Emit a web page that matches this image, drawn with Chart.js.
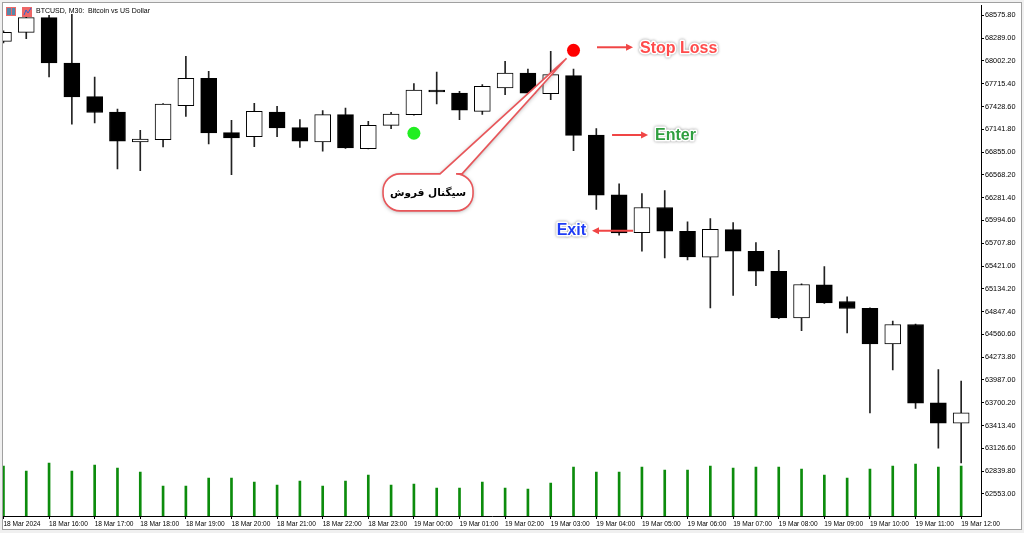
<!DOCTYPE html>
<html>
<head>
<meta charset="utf-8">
<script src="https://cdn.jsdelivr.net/npm/chart.js@4.4.1/dist/chart.umd.min.js"></script>
<style>
  html, body { margin: 0; padding: 0; background: #fff; }
</style>
</head>
<body>
<canvas id="chart" width="1024" height="533"></canvas>
<script>
// BTCUSD M30 candles, 18 Mar 15:00 -> 19 Mar 12:00
const opens  = [68249, 68362, 68547, 67976, 67553, 67359, 66982, 67012, 67440, 67783,
                67100, 67050, 67359, 67163, 66982, 67327, 66899, 67192, 67327, 67636,
                67598, 67368, 67661, 67850, 67591, 67817, 67070, 66316, 65842, 66157,
                65859, 65532, 65880, 65607, 65355, 64768, 65183, 64974, 64890, 64441,
                64685, 63699, 63443];
const highs  = [68380, 68563, 68575, 68590, 67800, 67397, 67129, 67465, 68060, 67871,
                67255, 67469, 67431, 67264, 67377, 67410, 67242, 67356, 67717, 67862,
                67620, 67704, 67997, 67900, 68123, 67900, 67150, 66454, 66333, 66370,
                65976, 66018, 65968, 65716, 65620, 65196, 65414, 65032, 64895, 64727,
                64690, 64118, 63972];
const lows   = [68230, 68283, 67800, 67205, 67221, 66642, 66622, 66919, 67305, 66957,
                66572, 66924, 67050, 66915, 66865, 66900, 66895, 67150, 67318, 67460,
                67264, 67330, 67578, 67595, 67515, 66874, 66132, 65808, 65607, 65523,
                65498, 64894, 65050, 65175, 64760, 64609, 64950, 64579, 63573, 64114,
                63628, 63129, 62944];
const closes = [68362, 68547, 67976, 67548, 67353, 66991, 67020, 67460, 67783, 67095,
                67032, 67368, 67158, 66991, 67327, 66906, 67192, 67334, 67636, 67611,
                67381, 67682, 67850, 67598, 67830, 67066, 66312, 65837, 66157, 65859,
                65535, 65884, 65607, 65355, 64768, 65188, 64957, 64886, 64441, 64685,
                63695, 63443, 63573];
const volumes = [5000, 4500, 5300, 4500, 5100, 4800, 4400, 3000, 3000, 3800,
                 3800, 3400, 3100, 3500, 3000, 3500, 4100, 3100, 3200, 2800,
                 2800, 3400, 2800, 2700, 3300, 4900, 4400, 4400, 4900, 4600,
                 4600, 5000, 4800, 4900, 4900, 4700, 4100, 3800, 4700, 5000,
                 5200, 4900, 5000];

// one label per hour = every second candle
const timeLabels = ['18 Mar 2024', '18 Mar 16:00', '18 Mar 17:00', '18 Mar 18:00', '18 Mar 19:00',
                    '18 Mar 20:00', '18 Mar 21:00', '18 Mar 22:00', '18 Mar 23:00', '19 Mar 00:00',
                    '19 Mar 01:00', '19 Mar 02:00', '19 Mar 03:00', '19 Mar 04:00', '19 Mar 05:00',
                    '19 Mar 06:00', '19 Mar 07:00', '19 Mar 08:00', '19 Mar 09:00', '19 Mar 10:00',
                    '19 Mar 11:00', '19 Mar 12:00'];
const priceTicks = [62553.00, 62839.80, 63126.60, 63413.40, 63700.20, 63987.00, 64273.80,
                    64560.60, 64847.40, 65134.20, 65421.00, 65707.80, 65994.60, 66281.40,
                    66568.20, 66855.00, 67141.80, 67428.60, 67715.40, 68002.20, 68289.00,
                    68575.80];

// annotations: [candle index, price]
const sellSignal = [25, 68136];
const buyDot     = [18, 67092];
const stopLoss   = { from: [26.03, 68174], to: [27.61, 68174], text: 'Stop Loss', color: '#ff4b4b' };
const enter      = { from: [26.69, 67070], to: [28.27, 67070], text: 'Enter', color: '#2f9e3f' };
const exit       = { from: [27.61, 65865], to: [25.81, 65865], text: 'Exit', color: '#1f3cf5' };
const bubble     = { at: [18.62, 66348], text: 'سیگنال فروش' };

function drawArrow(ctx, x1, x2, y, color) {
    const dir = Math.sign(x2 - x1);
    ctx.strokeStyle = color;
    ctx.fillStyle = color;
    ctx.lineWidth = 2;
    ctx.beginPath();
    ctx.moveTo(x1, y);
    ctx.lineTo(x2 - dir * 6, y);
    ctx.stroke();
    ctx.beginPath();
    ctx.moveTo(x2, y);
    ctx.lineTo(x2 - dir * 7, y - 3.5);
    ctx.lineTo(x2 - dir * 7, y + 3.5);
    ctx.closePath();
    ctx.fill();
}

function glowText(ctx, text, x, y, color, align) {
    ctx.save();
    ctx.font = 'bold 16px "Liberation Sans", Arial, sans-serif';
    ctx.textAlign = align;
    ctx.textBaseline = 'middle';
    ctx.lineJoin = 'round';
    ctx.shadowColor = 'rgba(0,0,0,0.45)';
    ctx.shadowBlur = 3;
    ctx.strokeStyle = '#fff';
    ctx.lineWidth = 3;
    ctx.strokeText(text, x, y);
    ctx.shadowColor = 'transparent';
    ctx.fillStyle = color;
    ctx.fillText(text, x, y);
    ctx.restore();
}

const overlay = {
    id: 'overlay',
    beforeDraw(chart) {
        const ctx = chart.ctx;
        ctx.save();
        ctx.fillStyle = '#f0f0f0';
        ctx.fillRect(0, 0, chart.width, chart.height);
        ctx.fillStyle = '#fff';
        ctx.fillRect(2, 2, chart.width - 4, chart.height - 5);
        ctx.strokeStyle = '#a0a0a0';
        ctx.lineWidth = 1;
        ctx.strokeRect(2.5, 2.5, chart.width - 5, chart.height - 6);
        ctx.restore();
    },
    beforeDatasetDraw(chart, args) {
        // callout bubble + tail sits under the signal dots
        if (args.index !== 3) return;
        const ctx = chart.ctx;
        const x = chart.scales.x, y = chart.scales.y;
        const cx = x.getPixelForValue(bubble.at[0]);
        const cy = y.getPixelForValue(bubble.at[1]);
        const ax = x.getPixelForValue(sellSignal[0]) - 7;
        const ay = y.getPixelForValue(sellSignal[1]) + 8;
        const w = 90, h = 37, r = 17;
        const x0 = cx - w / 2, x1 = cx + w / 2, y0 = cy - h / 2, y1 = cy + h / 2;
        ctx.save();
        ctx.beginPath();
        ctx.moveTo(x0 + r, y0);
        ctx.lineTo(cx + 12, y0);
        ctx.lineTo(ax, ay);
        ctx.lineTo(cx + 34, y0);
        ctx.arcTo(x1, y0, x1, y1, r);
        ctx.arcTo(x1, y1, x0, y1, r);
        ctx.arcTo(x0, y1, x0, y0, r);
        ctx.arcTo(x0, y0, x1, y0, r);
        ctx.closePath();
        ctx.shadowColor = 'rgba(0,0,0,0.35)';
        ctx.shadowBlur = 4;
        ctx.shadowOffsetY = 1;
        ctx.fillStyle = '#fff';
        ctx.fill();
        ctx.shadowColor = 'transparent';
        ctx.strokeStyle = '#e8565a';
        ctx.lineWidth = 1.6;
        ctx.stroke();
        ctx.fillStyle = '#000';
        ctx.font = 'bold 10.5px "DejaVu Sans", sans-serif';
        ctx.textAlign = 'center';
        ctx.textBaseline = 'middle';
        ctx.fillText(bubble.text, cx, cy + 1);
        ctx.restore();
    },
    afterDraw(chart) {
        const ctx = chart.ctx;
        const x = chart.scales.x, y = chart.scales.y;
        ctx.save();
        [stopLoss, enter, exit].forEach(a => {
            const x1 = x.getPixelForValue(a.from[0]);
            const x2 = x.getPixelForValue(a.to[0]);
            const py = y.getPixelForValue(a.from[1]);
            drawArrow(ctx, x1, x2, py, '#f04545');
            if (x2 > x1) glowText(ctx, a.text, x2 + 7, py + 1, a.color, 'left');
            else glowText(ctx, a.text, x2 - 6, py, a.color, 'right');
        });

        // MT5 window header: two small icons + symbol title
        ctx.fillStyle = '#e66';
        ctx.fillRect(6, 7, 10, 9);
        ctx.fillStyle = '#58a';
        ctx.fillRect(7, 8, 4, 7);
        ctx.fillRect(12, 8, 3, 7);
        ctx.fillStyle = '#e66';
        ctx.fillRect(22, 7, 10, 10);
        ctx.strokeStyle = '#36c';
        ctx.lineWidth = 1;
        ctx.beginPath();
        ctx.moveTo(24, 15); ctx.lineTo(26, 10); ctx.lineTo(28, 13); ctx.lineTo(31, 8);
        ctx.stroke();
        ctx.fillStyle = '#000';
        ctx.font = '7px "Liberation Sans", Arial, sans-serif';
        ctx.textBaseline = 'middle';
        ctx.textAlign = 'left';
        ctx.fillText('BTCUSD, M30:  Bitcoin vs US Dollar', 36, 11.5);
        ctx.restore();
    }
};

new Chart(document.getElementById('chart'), {
    type: 'bar',
    data: {
        datasets: [
            {
                label: 'Volume',
                data: volumes.map((v, i) => ({ x: i, y: v })),
                yAxisID: 'vol',
                backgroundColor: '#0c8c0c',
                barThickness: 2,
                grouped: false,
                order: 4
            },
            {
                label: 'Wicks',
                data: highs.map((h, i) => ({ x: i, y: [lows[i], h] })),
                backgroundColor: '#222',
                barThickness: 1,
                grouped: false,
                order: 3
            },
            {
                label: 'Bodies',
                data: opens.map((o, i) => ({ x: i, y: [o, closes[i]] })),
                backgroundColor: opens.map((o, i) => closes[i] < o ? '#000' : '#fff'),
                borderColor: '#000',
                borderWidth: 1,
                borderSkipped: false,
                barThickness: 16,
                grouped: false,
                order: 2
            },
            {
                type: 'scatter',
                label: 'Signals',
                data: [
                    { x: sellSignal[0], y: sellSignal[1] },
                    { x: buyDot[0], y: buyDot[1] }
                ],
                backgroundColor: ['#ff0000', '#22ee22'],
                borderWidth: 0,
                pointRadius: 6.5,
                order: 0
            }
        ]
    },
    options: {
        responsive: false,
        animation: false,
        devicePixelRatio: 1,
        layout: { autoPadding: false, padding: { left: 3, top: 4, right: 0, bottom: 0 } },
        plugins: {
            legend: { display: false },
            tooltip: { enabled: false }
        },
        scales: {
            x: {
                type: 'linear',
                min: -0.02,
                max: 42.87,
                offset: false,
                afterBuildTicks: s => { s.ticks = timeLabels.map((t, i) => ({ value: i * 2 })); },
                afterFit: s => { s.height = 17; },
                grid: { drawOnChartArea: false, offset: false, tickLength: 3, tickColor: '#000' },
                border: { color: '#000' },
                ticks: {
                    autoSkip: false,
                    maxRotation: 0,
                    minRotation: 0,
                    align: 'start',
                    padding: 1,
                    color: '#000',
                    font: { family: '"Liberation Sans", Arial, sans-serif', size: 6.6 },
                    callback: (v, i) => timeLabels[i]
                }
            },
            y: {
                position: 'right',
                min: 62275,
                max: 68701.3,
                afterBuildTicks: s => { s.ticks = priceTicks.map(v => ({ value: v })); },
                afterFit: s => { s.width = 43; },
                grid: { drawOnChartArea: false, tickLength: 3, tickColor: '#000' },
                border: { color: '#000' },
                ticks: {
                    autoSkip: false,
                    padding: 1,
                    color: '#000',
                    font: { family: '"Liberation Sans", Arial, sans-serif', size: 7.3 },
                    callback: v => v.toFixed(2)
                }
            },
            vol: {
                display: false,
                min: 0,
                max: 51200
            }
        }
    },
    plugins: [overlay]
});
</script>
</body>
</html>
